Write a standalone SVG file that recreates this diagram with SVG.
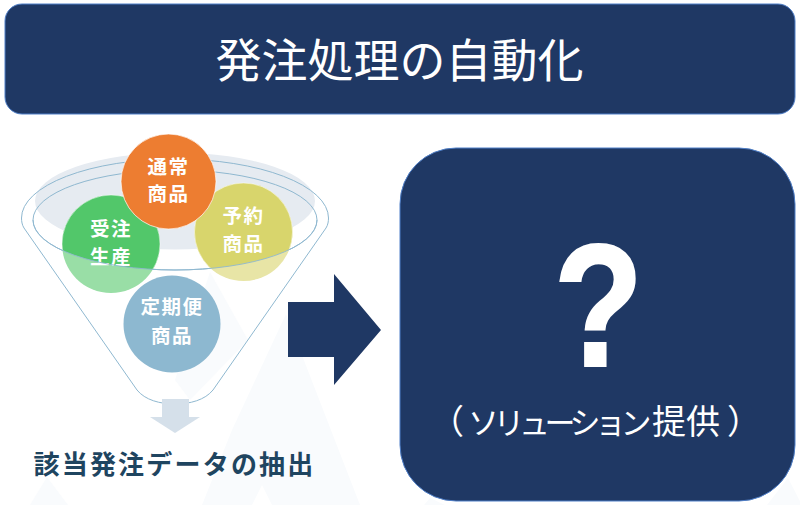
<svg xmlns="http://www.w3.org/2000/svg" width="800" height="505" viewBox="0 0 800 505">
<style>
.jp{font-family:"Noto Sans CJK JP","Noto Sans CJK SC",sans-serif;text-anchor:middle}
.c{fill:#fff;font-size:19.500px;font-weight:700;letter-spacing:1.500px}
.ln{fill:none;stroke:#8fb8d0;stroke-width:1}
.box{fill:#1f3864;stroke:#4f7fc8;stroke-width:1}
.m{fill:#f9fbfd}
</style>
<defs>
<clipPath id="inner"><ellipse cx="175" cy="220" rx="142" ry="50"/></clipPath>
</defs>
<rect width="800" height="505" fill="#fff"/>
<g id="background">
<polygon class="m" points="210,272 248,340 190,400 175,380"/>
<polygon class="m" points="286,314 360,505 202,505 232,430"/>
<polygon fill="#fff" points="252,505 262,485 272,505"/>
<polygon class="m" points="47,477 30,505 68,505"/>
<polygon class="m" points="788,478 802,505 767,505"/>
<polygon class="m" points="430,498 424,505 445,505"/>
</g>
<g id="title">
<rect class="box" x="5" y="4" width="790" height="110" rx="17"/>
<text class="jp" x="399.500" y="76.500" font-size="46" fill="#fff">発注処理の自動化</text>
</g>
<g id="funnel">
<ellipse cx="175" cy="201" rx="140" ry="48.500" fill="#e6ebf1"/>
<path class="ln" d="M24,228C22,225 21.500,221 21.500,218A153.500,59 0 0 1 328.500,218C328.500,221 328,225 326,228L213,390C205,400 190,404 175,404C160,404 145,400 137,390Z"/>
<ellipse class="ln" cx="175" cy="220" rx="142" ry="50"/>
</g>
<g id="connectors">
<polygon points="162,399 189,399 189,417 200,417 175,433 150,417 162,417" fill="#d5e0ea"/>
<polygon points="288,302 334,302 334,274 381,330 334,385 334,357 288,357" fill="#1f3864"/>
</g>
<g id="node-jyuchu">
<circle cx="111" cy="244" r="49" fill="#99dea6"/>
<circle cx="111" cy="244" r="49" fill="#52c76a" stroke="#fff" stroke-opacity=".5" clip-path="url(#inner)"/>
<text class="jp c" x="111" y="236">受注</text>
<text class="jp c" x="111" y="264">生産</text>
</g>
<g id="node-yoyaku">
<circle cx="243.500" cy="232" r="49" fill="#e8e5a6"/>
<circle cx="243.500" cy="232" r="49" fill="#d8d56c" stroke="#fff" stroke-opacity=".5" clip-path="url(#inner)"/>
<text class="jp c" x="243.500" y="222.500">予約</text>
<text class="jp c" x="243.500" y="250.500">商品</text>
</g>
<g id="node-tsujo">
<circle cx="168.500" cy="181.500" r="47.500" fill="#ed7d31" stroke="#fff" stroke-opacity=".7"/>
<text class="jp c" x="168.500" y="174">通常</text>
<text class="jp c" x="168.500" y="200.500">商品</text>
</g>
<g id="node-teiki">
<circle cx="172" cy="324" r="48.500" fill="#8db8d0"/>
<text class="jp c" x="172" y="314">定期便</text>
<text class="jp c" x="172" y="343">商品</text>
</g>
<path class="ln" d="M33,220A142,50 0 0 0 317,220" stroke-opacity=".9"/>
<text class="jp" x="174.500" y="473.500" font-size="26px" font-weight="700" letter-spacing="2.200px" fill="#1f4560">該当発注データの抽出</text>
<g id="solution">
<rect class="box" x="400" y="148" width="395" height="353" rx="56"/>
<text transform="translate(598.500,365.500) scale(.875,1.035)" font-family="Liberation Sans,sans-serif" font-size="168" font-weight="700" text-anchor="middle" fill="#fff" stroke="#fff" stroke-width="1.800">?</text>
<text font-family="Noto Sans CJK JP,Noto Sans CJK SC,sans-serif" x="430" y="434" font-size="34" fill="#fff">（<tspan dx="4" font-size="31" letter-spacing="-5.500">ソリューション</tspan><tspan dx="6">提供</tspan><tspan dx="7">）</tspan></text>
</g>
</svg>
